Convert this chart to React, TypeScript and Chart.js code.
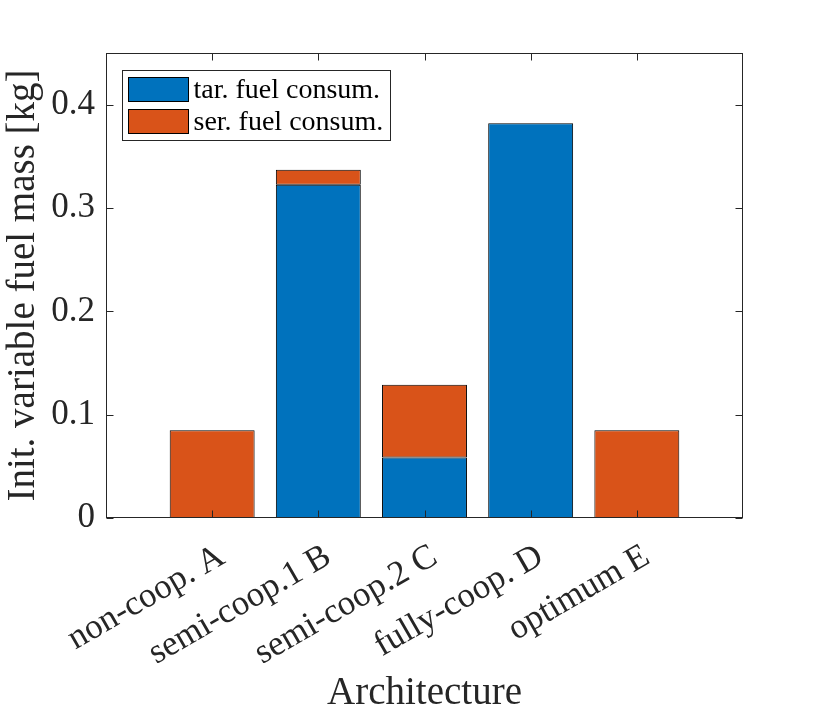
import { useEffect, useRef } from 'react';
import { Chart, registerables } from 'chart.js';

Chart.register(...registerables);

const categories = ['non-coop. A', 'semi-coop.1 B', 'semi-coop.2 C', 'fully-coop. D', 'optimum E'];
const tarFuel: (number | null)[] = [null, 0.3225, 0.0585, 0.382, null];
const serFuel: (number | null)[] = [0.085, 0.0145, 0.0705, null, 0.085];
const seriesNames = ['tar. fuel consum.', 'ser. fuel consum.'];
const yTicks = [0, 0.1, 0.2, 0.3, 0.4];
const yMax = 0.45;
const xTitle = 'Architecture';
const yTitle = 'Init. variable fuel mass [kg]';

const BLUE = '#0072BD';
const ORANGE = '#D95319';
const AXIS = '#262626';
const FONT = '"Liberation Serif", "Times New Roman", serif';

const decor = {
  id: 'decor',
  afterDraw(chart: any) {
    const { ctx, chartArea: a, scales } = chart;
    ctx.save();
    ctx.strokeStyle = AXIS;
    ctx.lineWidth = 1;
    const L = Math.round(a.left) + 0.5;
    const R = Math.round(a.right) - 0.5;
    const T = Math.round(a.top) + 0.5;
    const B = Math.round(a.bottom) - 0.5;
    ctx.strokeRect(L, T, R - L, B - T);
    const tl = 7;
    ctx.beginPath();
    for (let i = 1; i <= categories.length; i++) {
      const x = Math.round(scales.x.getPixelForValue(i)) + 0.5;
      ctx.moveTo(x, B); ctx.lineTo(x, B - tl);
      ctx.moveTo(x, T); ctx.lineTo(x, T + tl);
    }
    for (const v of yTicks) {
      const y = Math.round(scales.y.getPixelForValue(v)) + 0.5;
      ctx.moveTo(L, y); ctx.lineTo(L + tl, y);
      ctx.moveTo(R, y); ctx.lineTo(R - tl, y);
    }
    ctx.stroke();

    // legend
    const lx = L + 16;
    const ly = T + 17;
    const lw = 268;
    const lh = 70;
    ctx.fillStyle = '#ffffff';
    ctx.fillRect(lx, ly, lw, lh);
    ctx.strokeStyle = AXIS;
    ctx.strokeRect(lx, ly, lw, lh);
    ctx.font = `28px ${FONT}`;
    ctx.textBaseline = 'middle';
    ctx.textAlign = 'left';
    chart.data.datasets.forEach((ds: any, i: number) => {
      const sy = ly + 7 + i * 32;
      ctx.fillStyle = ds.backgroundColor;
      ctx.fillRect(lx + 6, sy, 60, 24);
      ctx.strokeStyle = '#000';
      ctx.strokeRect(lx + 6, sy, 60, 24);
      ctx.fillStyle = '#000';
      ctx.fillText(ds.label, lx + 71, sy + 13);
    });
    ctx.restore();
  },
};

export default function App() {
  const ref = useRef<HTMLCanvasElement>(null);
  useEffect(() => {
    document.body.style.margin = '0';
    const canvas = ref.current!;
    const chart = new Chart(canvas, {
      type: 'bar',
      data: {
        labels: ['', ...categories, ''],
        datasets: [
          {
            label: seriesNames[0],
            data: [null, ...tarFuel, null],
            backgroundColor: BLUE,
            borderColor: '#000',
            borderWidth: 1,
            borderSkipped: false,
            barPercentage: 0.8,
            categoryPercentage: 1,
          },
          {
            label: seriesNames[1],
            data: [null, ...serFuel, null],
            backgroundColor: ORANGE,
            borderColor: '#000',
            borderWidth: 1,
            borderSkipped: false,
            barPercentage: 0.8,
            categoryPercentage: 1,
          },
        ],
      },
      options: {
        responsive: false,
        animation: false,
        layout: { padding: { left: 0, top: 53, right: 79, bottom: 0 } },
        plugins: { legend: { display: false }, tooltip: { enabled: false } },
        scales: {
          x: {
            stacked: true,
            offset: false,
            grid: { display: false, drawTicks: false, offset: false },
            border: { display: false },
            ticks: {
              autoSkip: false,
              maxRotation: 30,
              minRotation: 30,
              padding: 18,
              labelOffset: 10,
              color: AXIS,
              font: { family: FONT, size: 35 },
            },
            title: {
              display: true,
              text: xTitle,
              color: AXIS,
              padding: 0,
              font: { family: FONT, size: 39 },
            },
            afterFit: (s: any) => { s.height = 199; },
          },
          y: {
            stacked: true,
            min: 0,
            max: yMax,
            grid: { display: false, drawTicks: false },
            border: { display: false },
            ticks: {
              stepSize: 0.1,
              includeBounds: false,
              padding: 11,
              color: AXIS,
              font: { family: FONT, size: 35 },
              callback: (v: any) => String(Number(Number(v).toFixed(2))),
            },
            title: {
              display: true,
              text: yTitle,
              color: AXIS,
              padding: 0,
              font: { family: FONT, size: 39 },
            },
            afterFit: (s: any) => { s.width = 106; },
          },
        },
      },
      plugins: [decor],
    });
    return () => chart.destroy();
  }, []);
  return <canvas ref={ref} width={822} height={717} style={{ display: 'block', width: 822, height: 717 }} />;
}
